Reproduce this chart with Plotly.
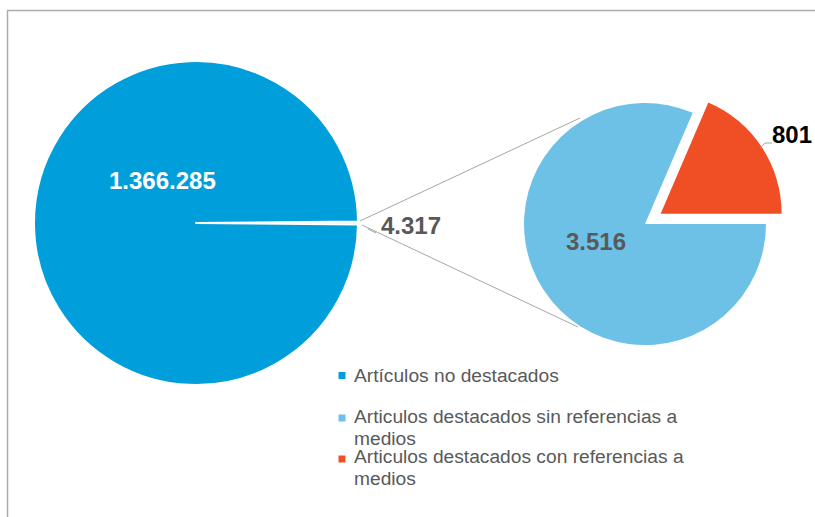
import plotly.graph_objects as go
import textwrap

# ---- data ----
main_labels = ["Artículos no destacados", "Artículos destacados"]
main_values = [1366285, 4317]
sub_labels = ["Articulos destacados con referencias a medios",
              "Articulos destacados sin referencias a medios"]
sub_values = [801, 3516]
legend_labels = ["Artículos no destacados",
                 "Articulos destacados sin referencias a medios",
                 "Articulos destacados con referencias a medios"]

C_DARK = "#009FDB"
C_LIGHT = "#6EC1E6"
C_RED = "#F04E25"
C_TINY = "#F6C49C"
legend_colors = [C_DARK, C_LIGHT, C_RED]

W, H = 815, 517


def fx(x):
    return x / W


def fy(y):
    return 1 - y / H


def fmt(v):
    return f"{v:,}".replace(",", ".")


# geometry (pixels)
big_c, big_r = (196, 223), 162
sub_c, sub_r, sub_pull = (645, 224), 121, 0.155

big_tot = sum(main_values)
sub_tot = sum(sub_values)

fig = go.Figure()

# big pie: small slice first, centred at 3 o'clock
fig.add_trace(go.Pie(
    labels=[main_labels[1], main_labels[0]],
    values=[main_values[1], main_values[0]],
    sort=False, direction="clockwise",
    rotation=90 - 180 * main_values[1] / big_tot,
    marker=dict(colors=[C_TINY, C_DARK], line=dict(color="white", width=2)),
    textinfo="none", hoverinfo="label+value", showlegend=False,
    domain=dict(x=[fx(big_c[0] - big_r), fx(big_c[0] + big_r)],
                y=[fy(big_c[1] + big_r), fy(big_c[1] - big_r)]),
))

half = sub_r * (1 + sub_pull)
fig.add_trace(go.Pie(
    labels=sub_labels, values=sub_values,
    sort=False, direction="clockwise",
    rotation=90 - 360 * sub_values[0] / sub_tot,
    pull=[sub_pull, 0],
    marker=dict(colors=[C_RED, C_LIGHT], line=dict(color="white", width=0)),
    textinfo="none", hoverinfo="label+value", showlegend=False,
    domain=dict(x=[fx(sub_c[0] - half), fx(sub_c[0] + half)],
                y=[fy(sub_c[1] + half), fy(sub_c[1] - half)]),
))

shapes = []
line_col = "#A6A6A6"
# frame
shapes.append(dict(type="path", xref="paper", yref="paper",
                   path=f"M {fx(7.5)} {fy(520)} L {fx(7.5)} {fy(10.5)} L {fx(818)} {fy(10.5)}",
                   line=dict(color="#ABABAB", width=1.5)))
# connector lines
for (x0, y0, x1, y1) in [(360, 221, 580, 118), (362, 225, 578, 327)]:
    shapes.append(dict(type="line", xref="paper", yref="paper",
                       x0=fx(x0), y0=fy(y0), x1=fx(x1), y1=fy(y1),
                       line=dict(color=line_col, width=1)))
# leader lines
shapes.append(dict(type="path", xref="paper", yref="paper",
                   path=f"M {fx(368)} {fy(229)} L {fx(376)} {fy(233)}",
                   line=dict(color=line_col, width=1)))
shapes.append(dict(type="path", xref="paper", yref="paper",
                   path=f"M {fx(760)} {fy(148)} L {fx(765)} {fy(143)} L {fx(772)} {fy(143)}",
                   line=dict(color=line_col, width=1)))

annotations = []
lab_font = "Liberation Sans, Arial, sans-serif"
for text, (x, y), col in [
    (fmt(main_values[0]), (162, 181), "white"),
    (fmt(main_values[1]), (411, 225), "#595959"),
    (fmt(sub_values[1]), (596, 241), "#595959"),
    (fmt(sub_values[0]), (792, 134), "black"),
]:
    annotations.append(dict(xref="paper", yref="paper", x=fx(x), y=fy(y),
                            text=f"<b>{text}</b>", showarrow=False,
                            xanchor="center", yanchor="middle",
                            font=dict(family=lab_font, size=24, color=col)))

# legend (manual)
entry_tops = [375.5, 416.5, 456.5]
line_gap = 22
sq_y = [375.5, 418, 459]
for lab, col, y0, sy in zip(legend_labels, legend_colors, entry_tops, sq_y):
    shapes.append(dict(type="rect", xref="paper", yref="paper",
                       x0=fx(338.5), x1=fx(345.5), y0=fy(sy - 3.5), y1=fy(sy + 3.5),
                       fillcolor=col, line=dict(width=0)))
    for k, ln in enumerate(textwrap.wrap(lab, 38)):
        annotations.append(dict(xref="paper", yref="paper", x=fx(352),
                                y=fy(y0 + k * line_gap), text=ln, showarrow=False,
                                xanchor="left", yanchor="middle",
                                font=dict(family=lab_font, size=19.2, color="#595959")))

fig.update_layout(
    width=W, height=H,
    margin=dict(l=0, r=0, t=0, b=0),
    paper_bgcolor="white", plot_bgcolor="white",
    shapes=shapes, annotations=annotations,
    showlegend=False,
)

fig.write_html("out.html", config={"displayModeBar": False},
               post_script="document.body.style.margin='0';document.body.style.overflow='hidden';")
